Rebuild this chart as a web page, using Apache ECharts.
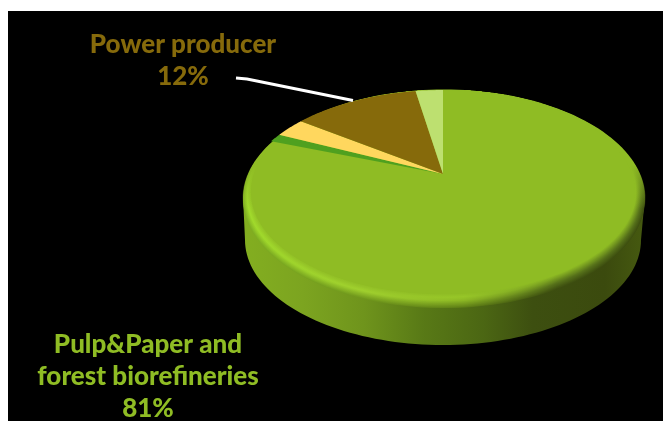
<!DOCTYPE html>
<html><head><meta charset="utf-8">
<style>html,body{margin:0;padding:0;background:#fff}#c{width:663px;height:421px}</style>
<script src="https://cdn.jsdelivr.net/npm/echarts@6/dist/echarts.min.js"></script>
</head><body><div id="c"></div>
<script>
// Data
const categories = ['Pulp&Paper and forest biorefineries', 'Other A', 'Other B', 'Power producer', 'Other C'];
const sliceValues = [80.6, 1.3, 3.0, 12.4, 2.7];
const sliceColors = ['#8fbc24', '#4fa01f', '#ffd75e', '#866a0b', '#bde070'];
const labelLines = {
  0: ['Pulp&Paper and', 'forest biorefineries'],
  3: ['Power producer']
};

const total = sliceValues.reduce((a, b) => a + b, 0);
const APEX = [443, 174];
const OUTER = {A: 196.5, B: 101.7, p: 0.2113};
const INNER = {A: 189, B: 98.8, p: 0.1765};
const MAIN = sliceColors[0];

// Perspective projection of a point on the unit disc (angle clockwise from the top)
function proj(theta, g) {
  const u = Math.sin(theta), v = Math.cos(theta), w = 1 + g.p * v;
  return [APEX[0] + g.A * u / w, APEX[1] - g.B * v / w];
}
function ellipse(cx, cy, rx, ry) {
  const pts = [];
  for (let i = 0; i < 180; i++) {
    const a = i / 180 * Math.PI * 2;
    pts.push([cx + rx * Math.cos(a), cy + ry * Math.sin(a)]);
  }
  return pts;
}
function mix(a, b, t) {
  const h = s => [1, 3, 5].map(i => parseInt(s.substr(i, 2), 16));
  const x = h(a), y = h(b);
  return 'rgb(' + x.map((c, i) => Math.round(c + (y[i] - c) * t)).join(',') + ')';
}
function hGrad(x0, x1, stops) {
  return {type: 'linear', x: x0, y: 0, x2: x1, y2: 0, global: true,
    colorStops: stops.map(s => ({offset: s[0], color: s[1]}))};
}
function ramp(stops, t) {
  for (let i = 0; i < stops.length - 1; i++) {
    if (t <= stops[i + 1][0]) {
      const f = (t - stops[i][0]) / (stops[i + 1][0] - stops[i][0]);
      return mix(stops[i][1], stops[i + 1][1], f);
    }
  }
  return stops[stops.length - 1][1];
}

function renderBody() {
  const children = [];
  // side wall: lower ellipse plus the hull up to the top ellipse
  const hull = [];
  for (let i = 0; i <= 90; i++) {
    const a = i / 90 * Math.PI;
    hull.push([443 + 198 * Math.cos(a), 240 + 105 * Math.sin(a)]);
  }
  hull.push([243, 196], [645, 196]);
  children.push({type: 'polygon', shape: {points: hull}, style: {
    fill: hGrad(243, 645, [[0, '#83ae20'], [0.15, '#7ca420'], [0.3, '#6f941c'], [0.45, '#587916'],
      [0.6, '#4b6613'], [0.72, '#3d4f10'], [0.9, '#3b4a0e'], [1, '#465a10']])}});

  // bevel: nested ellipses from the outer silhouette to the flat top
  const leftRamp = [[0, '#7fae22'], [0.45, '#a2dc2c'], [1, MAIN]];
  const midRamp = [[0, '#6f961c'], [0.55, '#a0d02e'], [1, MAIN]];
  const lowRamp = [[0, '#5e7f16'], [0.5, '#8db824'], [0.75, '#97c628'], [1, MAIN]];
  const rightRamp = [[0, '#3d4e10'], [0.4, '#55701a'], [1, MAIN]];
  const N = 24;
  for (let i = 0; i <= N; i++) {
    const t = i / N;
    const rx = 201 - 9 * t, ry = 109 - 7 * t, cy = 199 - 7 * t;
    children.push({type: 'polygon', shape: {points: ellipse(444, cy, rx, ry)}, style: {
      fill: hGrad(243, 645, [[0, ramp(leftRamp, t)], [0.3, ramp(midRamp, t)],
        [0.55, ramp(lowRamp, t)], [0.78, ramp(rightRamp, t)], [1, ramp(rightRamp, t)]])}});
  }
  // the far half of the silhouette carries no shading
  children.push({type: 'polygon', shape: {points: ellipse(444, 199, 201.5, 109.5)}, style: {
    fill: {type: 'linear', x: 0, y: 90, x2: 0, y2: 215, global: true, colorStops: [
      {offset: 0, color: 'rgba(143,188,36,1)'}, {offset: 0.6, color: 'rgba(143,188,36,1)'},
      {offset: 0.95, color: 'rgba(143,188,36,0)'}, {offset: 1, color: 'rgba(143,188,36,0)'}]}}});
  return {type: 'group', children};
}

function renderSlice(params, api) {
  const i = params.dataIndex;
  let before = 0;
  for (let k = 0; k < i; k++) before += sliceValues[k];
  // the chart starts at 12 o'clock and runs clockwise
  const a0 = before / total * Math.PI * 2, a1 = (before + api.value(0)) / total * Math.PI * 2;
  const g = i === 0 ? INNER : OUTER;
  const pts = [APEX.slice()];
  const n = Math.max(4, Math.ceil((a1 - a0) / 0.01));
  for (let k = 0; k <= n; k++) pts.push(proj(a0 + (a1 - a0) * k / n, g));
  return {type: 'polygon', shape: {points: pts}, style: {fill: sliceColors[i]}};
}

const pct = v => Math.round(v / total * 100) + '%';
const textBase = {fontFamily: 'Lato', fontWeight: 900, fontSize: 26, lineHeight: 32, textAlign: 'center', textVerticalAlign: 'top'};

const chart = echarts.init(document.getElementById('c'), null, {renderer: 'canvas'});
chart.setOption({
  animation: false,
  backgroundColor: '#fff',
  series: [
    {type: 'custom', name: 'body', coordinateSystem: 'none', silent: true, z: 2, data: [0], renderItem: renderBody},
    {type: 'custom', name: 'share', coordinateSystem: 'none', silent: true, z: 3,
      data: sliceValues.map((v, i) => ({name: categories[i], value: [v]})), renderItem: renderSlice}
  ],
  graphic: [
    {type: 'rect', z: -10, silent: true, shape: {x: 8, y: 11, width: 655, height: 410}, style: {fill: '#000'}},
    {type: 'polyline', z: 10, silent: true, shape: {points: [[236, 78], [247, 79], [353, 100.5]]},
      style: {stroke: '#fff', lineWidth: 3, fill: null}},
    {type: 'text', z: 10, silent: true, x: 183, y: 29, style: Object.assign({},
      textBase, {text: labelLines[3].concat(pct(sliceValues[3])).join('\n'), fill: sliceColors[3]})},
    {type: 'text', z: 10, silent: true, x: 148, y: 329, style: Object.assign({},
      textBase, {text: labelLines[0].concat(pct(sliceValues[0])).join('\n'), fill: sliceColors[0]})}
  ]
});
</script></body></html>
